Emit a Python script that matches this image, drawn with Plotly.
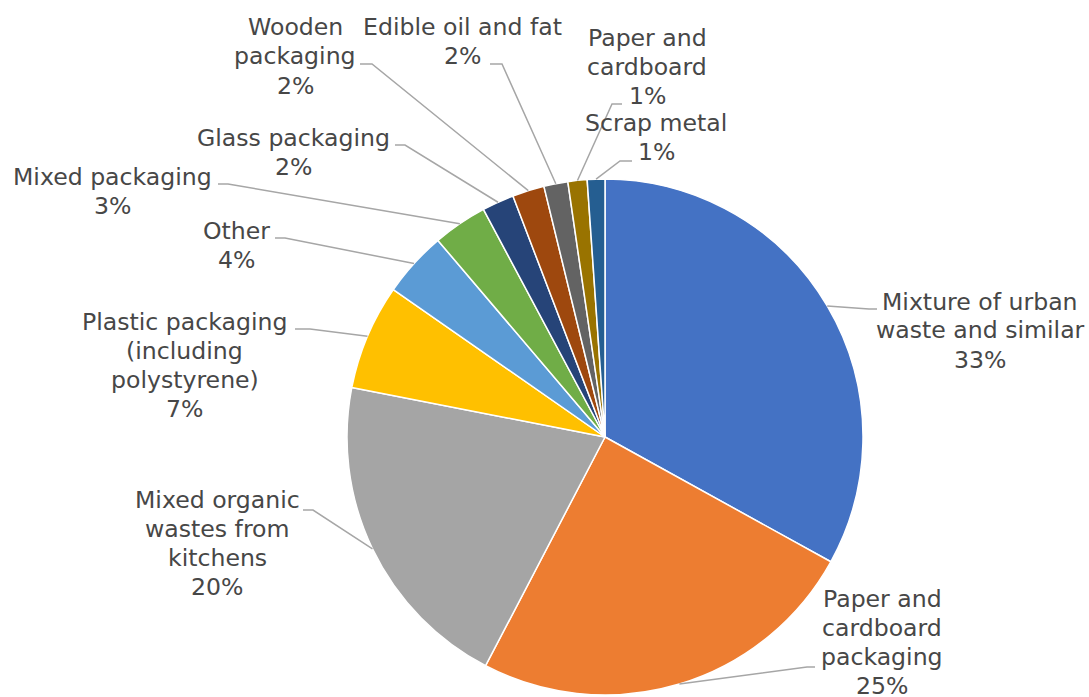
import math
import plotly.graph_objects as go

# ---------------- data ----------------
categories = [
    "Mixture of urban waste and similar",
    "Paper and cardboard packaging",
    "Mixed organic wastes from kitchens",
    "Plastic packaging (including polystyrene)",
    "Other",
    "Mixed packaging",
    "Glass packaging",
    "Wooden packaging",
    "Edible oil and fat",
    "Paper and cardboard",
    "Scrap metal",
]
values = [33.0, 24.6, 20.4, 6.6, 4.1, 3.4, 2.0, 2.0, 1.5, 1.2, 1.1]
label_lines = [
    ["Mixture of urban", "waste and similar"],
    ["Paper and", "cardboard", "packaging"],
    ["Mixed organic", "wastes from", "kitchens"],
    ["Plastic packaging", "(including", "polystyrene)"],
    ["Other"],
    ["Mixed packaging"],
    ["Glass packaging"],
    ["Wooden", "packaging"],
    ["Edible oil and fat"],
    ["Paper and", "cardboard"],
    ["Scrap metal"],
]

# ---------------- styles / layout ----------------
colors = ["#4472C4", "#ED7D31", "#A5A5A5", "#FFC000", "#5B9BD5", "#70AD47",
          "#264478", "#9E480E", "#636363", "#997300", "#255E91"]
W, H = 1089, 697
CX, CY, R = 605, 437, 258          # pie centre / radius in pixels
FONT = "DejaVu Sans"
FSIZE = 23.6
LINE_H = 29.0
TXT_COLOR = "#474747"
LINE_COLOR = "#A6A6A6"

# label placement (pixels): text block centre, leader elbow point, point touching label
label_pos = [
    (980, 330.5), (882, 642.5), (217, 543.5), (185, 365.5), (236, 245),
    (112, 191.5), (293, 152), (295, 56.5), (462, 42), (647, 67), (656, 137.5),
]
leader_pts = [
    ((869, 309), (877, 309)),
    ((807, 667), (815, 667)),
    ((313, 510), (303, 510)),
    ((310, 329), (295, 329)),
    ((285, 238), (275, 238)),
    ((228, 184), (218, 184)),
    ((405, 145), (395, 145)),
    ((372, 64), (360, 64)),
    ((502, 64), (490, 64)),
    ((612, 104), (622, 104)),
    ((620, 161), (632, 161)),
]


def px(x):
    return x / W


def py(y):
    return 1 - y / H


total = sum(values)

fig = go.Figure(go.Pie(
    labels=categories,
    values=values,
    sort=False,
    direction="clockwise",
    rotation=0,
    marker=dict(colors=colors, line=dict(color="white", width=1.5)),
    textinfo="none",
    hoverinfo="skip",
    domain=dict(x=[px(CX - R), px(CX + R)], y=[py(CY + R), py(CY - R)]),
))

annotations = []
shapes = []
cum = 0.0
for i, v in enumerate(values):
    mid = (cum + v / 2) / total * 2 * math.pi
    cum += v
    ex = CX + R * math.sin(mid)
    ey = CY - R * math.cos(mid)
    (bx, by), (ax, ay) = leader_pts[i]
    path = f"M {px(ex)} {py(ey)} L {px(bx)} {py(by)} L {px(ax)} {py(ay)}"
    shapes.append(dict(type="path", xref="paper", yref="paper", path=path,
                       line=dict(color=LINE_COLOR, width=1.5)))
    pct = round(v / total * 100)
    lines = label_lines[i] + [f"{pct}%"]
    tx, ty = label_pos[i]
    n = len(lines)
    for k, line in enumerate(lines):
        ly = ty + (k - (n - 1) / 2) * LINE_H
        annotations.append(dict(
            x=px(tx), y=py(ly), xref="paper", yref="paper",
            text=line, showarrow=False,
            xanchor="center", yanchor="middle", align="center",
            font=dict(family=FONT, size=FSIZE, color=TXT_COLOR),
        ))

fig.update_layout(
    width=W, height=H,
    margin=dict(l=0, r=0, t=0, b=0),
    paper_bgcolor="white", plot_bgcolor="white",
    showlegend=False,
    annotations=annotations,
    shapes=shapes,
)

fig.write_html(
    "out.html",
    config={"displayModeBar": False},
    post_script="document.body.style.margin='0';document.body.style.overflow='hidden';",
)
